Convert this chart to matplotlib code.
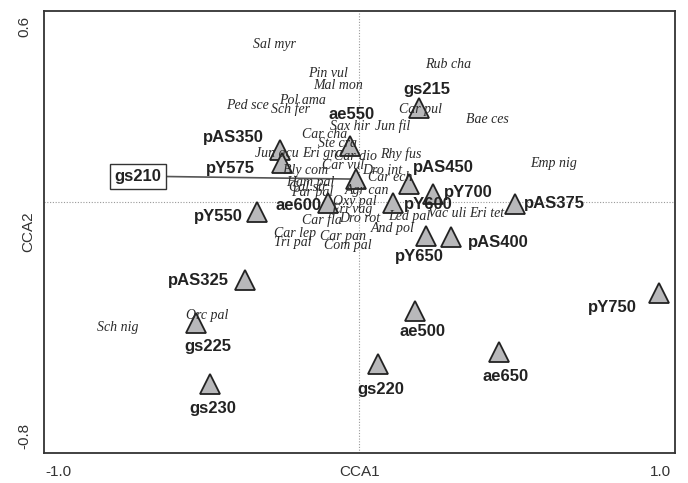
import matplotlib
matplotlib.use("Agg")
import matplotlib.pyplot as plt

# sample scores (CCA1, CCA2)
samples = ["gs215", "ae550", "pAS350", "pY575", "gs210", "pAS450", "pY700",
           "pY600", "ae600", "pY550", "pAS375", "pY650", "pAS400", "pY750",
           "pAS325", "gs225", "gs230", "ae500", "gs220", "ae650"]
sample_x = [0.199, -0.030, -0.262, -0.256, -0.010, 0.166, 0.246,
            0.113, -0.103, -0.339, 0.518, 0.223, 0.306, 0.997,
            -0.379, -0.542, -0.495, 0.186, 0.063, 0.465]
sample_y = [0.321, 0.191, 0.177, 0.133, 0.078, 0.061, 0.027,
            -0.003, -0.003, -0.034, -0.007, -0.116, -0.119, -0.311,
            -0.266, -0.413, -0.621, -0.372, -0.553, -0.512]

# species scores
species = ["Sal myr", "Pin vul", "Mal mon", "Rub cha", "Ped sce", "Pol ama",
           "Sch fer", "Car pul", "Bae ces", "Sax hir", "Jun fil", "Car cha",
           "Ste cra", "Jun acu", "Eri gra", "Car dio", "Rhy fus", "Car vul",
           "Dro int", "Bly com", "Emp nig", "Ham pal", "Car ech", "Cal str",
           "Par pal", "Agr can", "Oxy pal", "Eri vag", "Led pal", "Vac uli",
           "Eri tet", "Car fla", "Dro rot", "And pol", "Car lep", "Car pan",
           "Tri pal", "Com pal", "Orc pal", "Sch nig"]
species_x = [-0.282, -0.103, -0.070, 0.296, -0.372, -0.189,
             -0.229, 0.203, 0.425, -0.030, 0.113, -0.113,
             -0.073, -0.272, -0.120, -0.013, 0.140, -0.053,
             0.076, -0.179, 0.645, -0.163, 0.103, -0.169,
             -0.156, 0.027, -0.013, -0.023, 0.166, 0.292,
             0.425, -0.123, 0.003, 0.113, -0.213, -0.053,
             -0.219, -0.037, -0.505, -0.801]
species_y = [0.536, 0.440, 0.399, 0.468, 0.331, 0.345,
             0.317, 0.317, 0.283, 0.259, 0.259, 0.229,
             0.198, 0.164, 0.164, 0.154, 0.164, 0.126,
             0.109, 0.106, 0.133, 0.068, 0.082, 0.048,
             0.031, 0.038, 0.000, -0.027, -0.048, -0.041,
             -0.041, -0.061, -0.058, -0.089, -0.106, -0.119,
             -0.140, -0.150, -0.386, -0.427]

# label offsets in pixels (dx, dy)
label_offsets = {
    "gs215": (8, 18), "ae550": (2, 32), "pAS350": (-47, 13), "pY575": (-52, -5),
    "pAS450": (34, 17), "pY700": (35, 2), "pY600": (35, -2), "ae600": (-30, -3),
    "pY550": (-39, -5), "pAS375": (40, 1), "pY650": (-7, -21), "pAS400": (47, -6),
    "pY750": (-47, -14), "pAS325": (-47, -1), "gs225": (12, -24), "gs230": (3, -25),
    "ae500": (7, -21), "gs220": (3, -26), "ae650": (7, -25),
}

fig = plt.figure(figsize=(6.88, 4.83), dpi=100)
ax = fig.add_axes([44 / 688, 1 - 453 / 483, 631 / 688, 442 / 483])

ax.set_xlim(-1.047, 1.050)
ax.set_ylim(-0.857, 0.652)

ax.axhline(0, color="#999999", lw=0.8, ls=(0, (1, 1.5)), zorder=0)
ax.axvline(0, color="#999999", lw=0.8, ls=(0, (1, 1.5)), zorder=0)

# gs210 label with leader line
i = samples.index("gs210")
ax.annotate("gs210", (sample_x[i], sample_y[i]), xytext=(-218, 3),
            textcoords="offset pixels", ha="center", va="center",
            fontsize=12, fontweight="bold", family="Liberation Sans", color="#222222",
            bbox=dict(boxstyle="square,pad=0.3", fc="white", ec="#333333", lw=1.0),
            arrowprops=dict(arrowstyle="-", color="#555555", lw=1.2,
                            shrinkA=0, shrinkB=0), zorder=2)

ax.plot(sample_x, sample_y, ls="none", marker="^", ms=14, mfc="#b8b8ba",
        mec="#222222", mew=1.3, zorder=3)

for name, x, y in zip(species, species_x, species_y):
    ax.text(x, y, name, ha="center", va="center", fontsize=10, style="italic",
            family="Liberation Serif", color="#2a2a2a", zorder=4)

for name, x, y in zip(samples, sample_x, sample_y):
    if name in label_offsets:
        ax.annotate(name, (x, y), xytext=label_offsets[name], textcoords="offset pixels",
                    ha="center", va="center", fontsize=12, fontweight="bold",
                    family="Liberation Sans", color="#222222", zorder=5)

ax.set_xticks([-1.0, 1.0])
ax.set_xticklabels(["-1.0", "1.0"])
ax.set_yticks([-0.8, 0.6])
ax.set_yticklabels(["-0.8", "0.6"], rotation=90, va="center")
ax.tick_params(length=0, labelsize=11, colors="#333333", pad=9)
for lab in ax.get_xticklabels() + ax.get_yticklabels():
    lab.set_family("Liberation Sans")

ax.text(0.5, -0.043, "CCA1", transform=ax.transAxes, ha="center", va="center",
        fontsize=11, family="Liberation Sans", color="#333333")
ax.text(-0.0254, 0.5, "CCA2", transform=ax.transAxes, ha="center", va="center",
        rotation=90, fontsize=11, family="Liberation Sans", color="#333333")

for s in ax.spines.values():
    s.set_color("#333333")
    s.set_linewidth(1.3)

fig.savefig("out.png", dpi=100)
